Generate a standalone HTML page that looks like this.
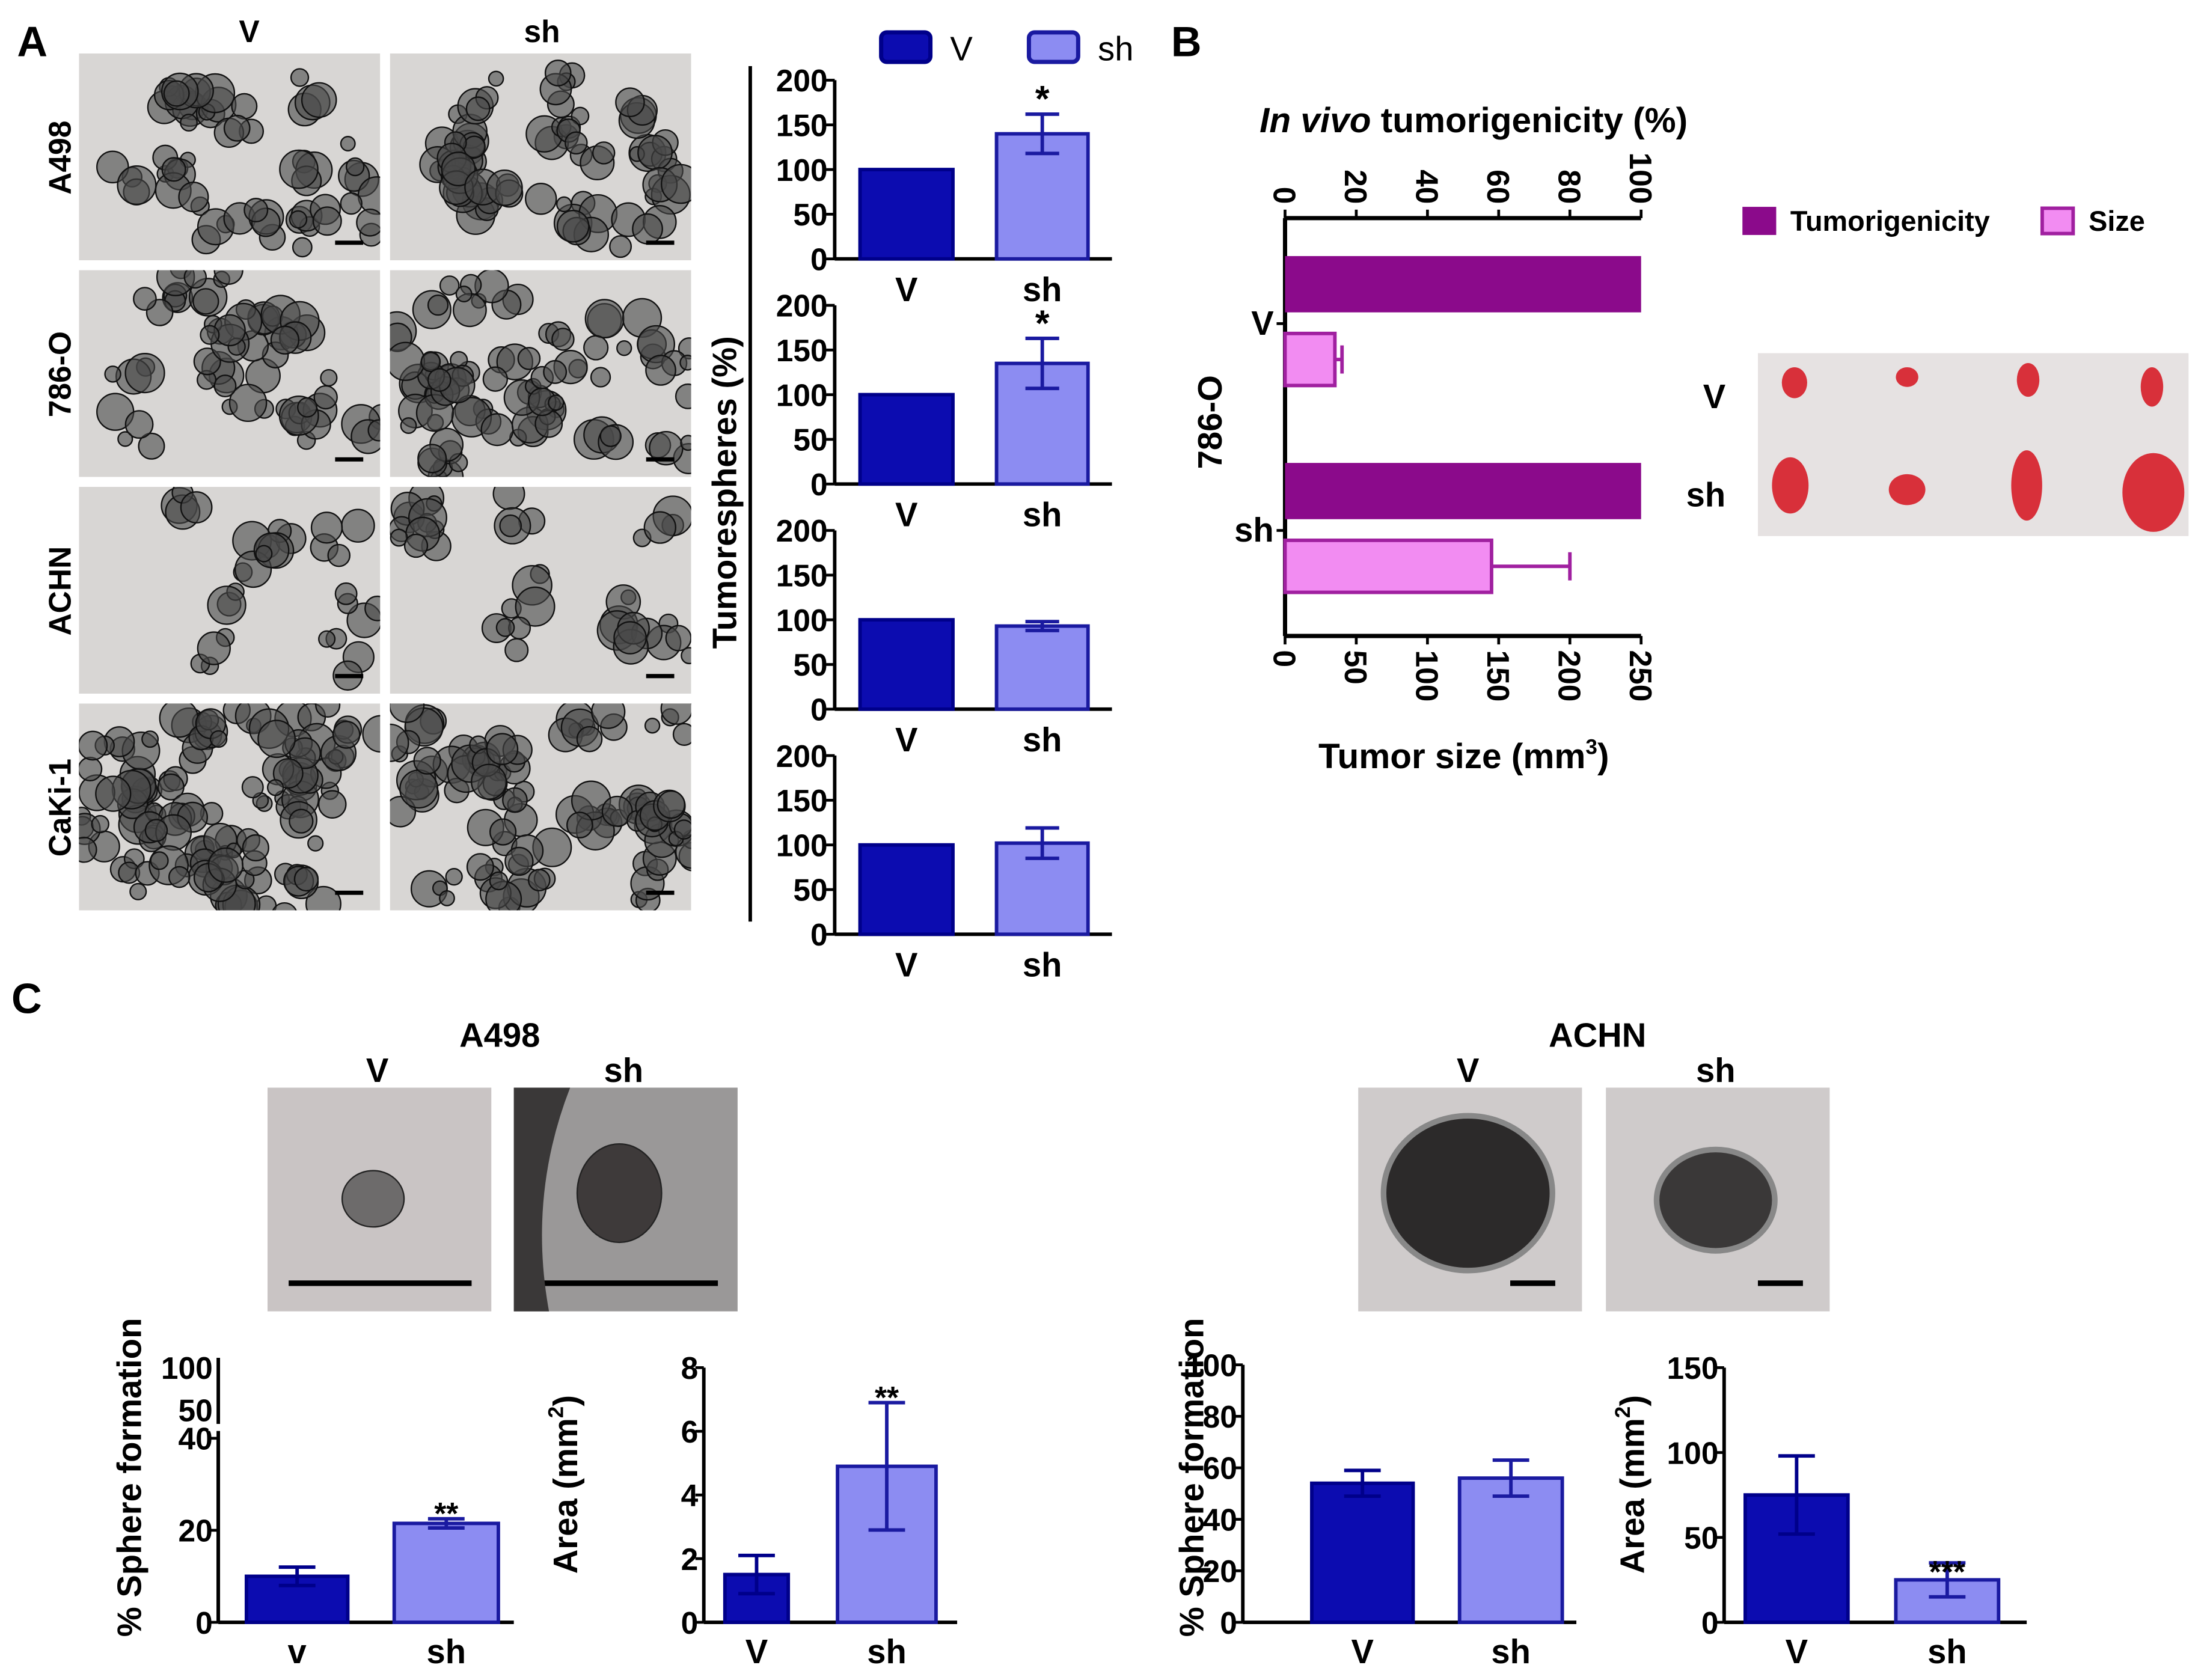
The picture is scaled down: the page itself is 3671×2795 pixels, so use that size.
<!DOCTYPE html>
<html><head><meta charset="utf-8">
<style>html,body{margin:0;padding:0;background:#fff}svg{display:block}text{font-family:"Liberation Sans",sans-serif;font-weight:bold}</style>
</head><body>
<svg id="fig" width="3671" height="2795" viewBox="0 0 1568 1194" xmlns="http://www.w3.org/2000/svg">
<defs id="defs"></defs>
<rect width="1568" height="1194" fill="#fff"/>
<g id="static"></g>
</svg>
<script>
// ---- data ----
const aCategories = ['V','sh'];
const aLines = ['A498','786-O','ACHN','CaKi-1'];
const aV = [100,100,100,100];
const aSh = [140,135,93,102];
const aShErr = [22,28,5,17];
const aStars = ['*','*','',''];
const aTicks = [0,50,100,150,200];
const bGroups = ['V','sh'];
const bTumorigenicity = [100,100];
const bSize = [35,145];
const bSizeErr = [5,55];
const bTopTicks = [0,20,40,60,80,100];
const bBottomTicks = [0,50,100,150,200,250];
const c1Vals = [10,21.5];
const c1Errs = [2,1];
const c2Vals = [1.5,4.9];
const c2Errs = [0.6,2];
const c3Vals = [54,56];
const c3Errs = [5,7];
const c4Vals = [75,25];
const c4Errs = [23,10];

const NS='http://www.w3.org/2000/svg';
const root=document.getElementById('static');
const defs=document.getElementById('defs');
function el(tag,attrs,parent,txt){const e=document.createElementNS(NS,tag);for(const k in attrs)e.setAttribute(k,attrs[k]);if(txt!==undefined)e.textContent=txt;(parent||root).appendChild(e);return e;}
const VF='#0c0cb0',VS='#00008a',SF='#8c8cf2',SS='#1a1aa0';

[['A',12,40],['B',832,40],['C',8,720]].forEach(p=>{
 const t=el('text',{x:p[1],y:p[2],'font-size':30,fill:'#000'},root,p[0]);
 
 
});

let clipN=0;
function photo(x,y,w,h,name,dens,seed,bg){
 const id='clip'+(clipN++);
 const cp=el('clipPath',{id:id},defs);
 el('rect',{x:x,y:y,width:w,height:h},cp);
 const g=el('g',{'clip-path':`url(#${id})`});
 
 
 el('rect',{x:x,y:y,width:w,height:h,fill:bg||'#d8d6d4'},g);
 let s=seed;function r(){s=(s*9301+49297)%233280;return s/233280;}
 for(let i=0;i<dens;i++){
  const cx=x+10+r()*(w-20),cy=y+10+r()*(h-20);
  for(let k=0;k<4;k++){
   el('circle',{cx:cx+(r()-0.5)*30,cy:cy+(r()-0.5)*30,r:5+r()*9,fill:'#4a4a4a','fill-opacity':0.6,stroke:'#111','stroke-width':1},g);
  }
 }
 el('rect',{x:x+w-32,y:y+h-14,width:20,height:3,fill:'#000'},g);
 return g;
}
const colX=[56,277],rowY=[38,192,346,500],dens=[[16,20],[16,24],[8,10],[34,28]];
el('text',{x:177,y:30,'font-size':22,'text-anchor':'middle'},root,'V');
el('text',{x:385,y:30,'font-size':22,'text-anchor':'middle'},root,'sh');
aLines.forEach((ln,i)=>{
 colX.forEach((cx,j)=>photo(cx,rowY[i],214,147,'micrograph-'+ln.toLowerCase()+'-'+aCategories[j].toLowerCase(),dens[i][j],i*7+j*3+5));
 const t=el('text',{x:0,y:0,'font-size':22,'text-anchor':'middle',transform:`translate(50,${rowY[i]+74}) rotate(-90)`},root,ln);
 
 
});

const ax=593,axEnd=790,bw=[[611,677],[708,773]];
const aBase=[184,344,504,664];
function errBar(xc,yTop,yErr,color,g,hw){
 el('line',{x1:xc,y1:yTop,x2:xc,y2:yErr,stroke:color,'stroke-width':2.5},g);
 el('line',{x1:xc-(hw||12),y1:yErr,x2:xc+(hw||12),y2:yErr,stroke:color,'stroke-width':2.5},g);
}
aBase.forEach((b0,i)=>{
 const g=el('g',{});
 
 
 const y=v=>b0-v*127/200;
 el('line',{x1:ax,y1:y(200),x2:ax,y2:b0,stroke:'#000','stroke-width':2.5},g);
 el('line',{x1:ax,y1:b0,x2:axEnd,y2:b0,stroke:'#000','stroke-width':2.5},g);
 aTicks.forEach(t=>{el('line',{x1:ax-6,y1:y(t),x2:ax,y2:y(t),stroke:'#000','stroke-width':2},g);
  el('text',{x:ax-5,y:y(t)+8,'font-size':22,'text-anchor':'end'},g,t);});
 const vals=[aV[i],aSh[i]];
 vals.forEach((v,j)=>{
  const r=el('rect',{x:bw[j][0],y:y(v),width:bw[j][1]-bw[j][0],height:b0-y(v),fill:j?SF:VF,stroke:j?SS:VS,'stroke-width':2.5},g);
  
  
  el('text',{x:(bw[j][0]+bw[j][1])/2,y:b0+30,'font-size':24,'text-anchor':'middle'},g,aCategories[j]);
 });
 const xc=(bw[1][0]+bw[1][1])/2;
 errBar(xc,y(aSh[i]),y(aSh[i]+aShErr[i]),SS,g);
 errBar(xc,y(aSh[i]),y(aSh[i]-aShErr[i]),SS,g);
 if(aStars[i])el('text',{x:xc,y:y(aSh[i]+aShErr[i])-2,'font-size':26,'text-anchor':'middle'},g,aStars[i]);
});
el('line',{x1:533,y1:47,x2:533,y2:655,stroke:'#000','stroke-width':2.5});
el('text',{x:0,y:0,'font-size':24,'text-anchor':'middle',transform:'translate(523,350) rotate(-90)'},root,'Tumorespheres (%)');
const lgA=el('g',{});
el('rect',{x:626,y:23,width:35,height:21,rx:4,fill:VF,stroke:VS,'stroke-width':3},lgA);
el('text',{x:675,y:43,'font-size':24,style:'font-weight:normal'},lgA,'V');
el('rect',{x:731,y:23,width:35,height:21,rx:4,fill:SF,stroke:SS,'stroke-width':3},lgA);
el('text',{x:780,y:43,'font-size':24,style:'font-weight:normal'},lgA,'sh');

const bx0=913,bx1=1166,bTop=155,bBot=452;
const gB=el('g',{});
const xPct=v=>bx0+v*(bx1-bx0)/100, xSize=v=>bx0+v*(bx1-bx0)/250;
el('line',{x1:bx0,y1:bTop,x2:bx1,y2:bTop,stroke:'#000','stroke-width':3},gB);
el('line',{x1:bx0,y1:bBot,x2:bx1,y2:bBot,stroke:'#000','stroke-width':3},gB);
el('line',{x1:bx0,y1:bTop,x2:bx0,y2:bBot,stroke:'#000','stroke-width':3},gB);
bTopTicks.forEach(t=>{const x=xPct(t);el('line',{x1:x,y1:bTop-6,x2:x,y2:bTop,stroke:'#000','stroke-width':2},gB);
 el('text',{x:0,y:0,'font-size':22,transform:`translate(${x-8},${bTop-10}) rotate(90)`,'text-anchor':'end'},gB,t);});
bBottomTicks.forEach(t=>{const x=xSize(t);el('line',{x1:x,y1:bBot,x2:x,y2:bBot+6,stroke:'#000','stroke-width':2},gB);
 el('text',{x:0,y:0,'font-size':22,transform:`translate(${x-8},${bBot+10}) rotate(90)`},gB,t);});
const bRowY=[182,329];
bGroups.forEach((gname,i)=>{
 const y0=bRowY[i];
 const r1=el('rect',{x:bx0,y:y0,width:xPct(bTumorigenicity[i])-bx0,height:40,fill:'#8b0a8b'},gB);
 
 
 const r2=el('rect',{x:bx0,y:y0+55,width:xSize(bSize[i])-bx0,height:37,fill:'#f28cf2',stroke:'#a020a0','stroke-width':2.5},gB);
 
 
 const ym=y0+55+18.5,xe=xSize(bSize[i]+bSizeErr[i]);
 el('line',{x1:xSize(bSize[i]),y1:ym,x2:xe,y2:ym,stroke:'#a020a0','stroke-width':2.5},gB);
 el('line',{x1:xe,y1:ym-10,x2:xe,y2:ym+10,stroke:'#a020a0','stroke-width':2.5},gB);
 el('line',{x1:bx0-6,y1:y0+48,x2:bx0,y2:y0+48,stroke:'#000','stroke-width':2},gB);
 el('text',{x:bx0-8,y:y0+56,'font-size':24,'text-anchor':'end'},gB,gname);
});
el('text',{x:0,y:0,'font-size':24,'text-anchor':'middle',transform:'translate(868,300) rotate(-90)'},gB,'786-O');
const tb=el('text',{x:1047,y:94,'font-size':25,'text-anchor':'middle'},gB);
el('tspan',{'font-style':'italic'},tb,'In vivo');el('tspan',{},tb,' tumorigenicity (%)');
const xt=el('text',{x:1040,y:546,'font-size':25,'text-anchor':'middle'},gB,'Tumor size (mm');
el('tspan',{'font-size':15,dy:-10},xt,'3');el('tspan',{dy:10},xt,')');
const lgB=el('g',{});
el('rect',{x:1238,y:147,width:24,height:20,fill:'#8b0a8b'},lgB);
el('text',{x:1272,y:164,'font-size':20},lgB,'Tumorigenicity');
el('rect',{x:1451,y:148,width:22,height:18,fill:'#f28cf2',stroke:'#a020a0','stroke-width':2.5},lgB);
el('text',{x:1484,y:164,'font-size':20},lgB,'Size');
const tp=el('g',{});
el('rect',{x:1249,y:251,width:306,height:130,fill:'#e6e2e2'},tp);
[[1275,272,9,11],[1355,268,8,7],[1441,270,8,12],[1529,275,8,14],[1272,345,13,20],[1355,348,13,11],[1440,345,11,25],[1530,350,22,28]].forEach(b=>el('ellipse',{cx:b[0],cy:b[1],rx:b[2],ry:b[3],fill:'#d8303a'},tp));
el('text',{x:1218,y:290,'font-size':24,'text-anchor':'middle'},root,'V');
el('text',{x:1212,y:360,'font-size':24,'text-anchor':'middle'},root,'sh');

[['A498',355,[[190,268,'V'],[365,443,'sh']],[[4,'#c9c4c4'],[6,'#9a9898']]],['ACHN',1135,[[965,1043,'V'],[1141,1219,'sh']],[[0,'#cfcbcb'],[0,'#cfcbcb']]]].forEach(p=>{
 el('text',{x:p[1],y:744,'font-size':24,'text-anchor':'middle'},root,p[0]);
 p[2].forEach((c,k)=>{
  el('text',{x:c[1],y:769,'font-size':24,'text-anchor':'middle'},root,c[2]);
  const g=el('g',{});
  el('rect',{x:c[0],y:773,width:159,height:159,fill:p[3][k][1]},g);
  if(p[0]==='A498'){el('ellipse',{cx:c[0]+75,cy:k?848:852,rx:k?30:22,ry:k?35:20,fill:k?'#3e3a3a':'#6d6b6b',stroke:'#222'},g);
   el('line',{x1:c[0]+15,y1:912,x2:c[0]+145,y2:912,stroke:'#000','stroke-width':4},g);
   if(k)el('path',{d:`M${c[0]} 773 L${c[0]+40} 773 Q${c[0]+10} 850 ${c[0]+25} 932 L${c[0]} 932Z`,fill:'#3a3838'},g);}
  else{el('ellipse',{cx:c[0]+78,cy:k?853:848,rx:k?42:60,ry:k?36:55,fill:k?'#3a3838':'#2c2a2a',stroke:'#888','stroke-width':4},g);
   el('line',{x1:c[0]+108,y1:912,x2:c[0]+140,y2:912,stroke:'#000','stroke-width':4},g);}
 });
});

function cChart(name,axX,xEnd,bars,vals,errs,yOf,ticks,labels,title,stars,starsY){
 const g=el('g',{});
 const b0=1153;
 el('line',{x1:axX,y1:yOf(ticks[ticks.length-1]),x2:axX,y2:b0,stroke:'#000','stroke-width':2.5},g);
 el('line',{x1:axX,y1:b0,x2:xEnd,y2:b0,stroke:'#000','stroke-width':2.5},g);
 ticks.forEach(t=>{el('line',{x1:axX-6,y1:yOf(t),x2:axX,y2:yOf(t),stroke:'#000','stroke-width':2},g);
  el('text',{x:axX-4,y:yOf(t)+8,'font-size':22,'text-anchor':'end'},g,t);});
 vals.forEach((v,j)=>{
  const r=el('rect',{x:bars[j][0],y:yOf(v),width:bars[j][1]-bars[j][0],height:b0-yOf(v),fill:j?SF:VF,stroke:j?SS:VS,'stroke-width':2.5},g);
  
  
  const xc=(bars[j][0]+bars[j][1])/2;
  errBar(xc,yOf(v),yOf(v+errs[j]),j?SS:VS,g,13);errBar(xc,yOf(v),yOf(v-errs[j]),j?SS:VS,g,13);
  el('text',{x:xc,y:1182,'font-size':24,'text-anchor':'middle'},g,labels[j]);
 });
 if(stars){const xc=(bars[1][0]+bars[1][1])/2;el('text',{x:xc,y:yOf(vals[1]+errs[1])+starsY,'font-size':22,'text-anchor':'middle'},g,stars);}
 const tt=el('text',{x:0,y:0,'font-size':24,'text-anchor':'middle',transform:`translate(${title[1]},${title[2]}) rotate(-90)`},g,title[0]);
 if(title[3]){el('tspan',{'font-size':15,dy:-10},tt,'2');el('tspan',{dy:10},tt,')');}
 return g;
}
const y1=v=>v<=40?1153-v*3.27:(v<=50?1002:1002-(v-50)*0.6);
const g1=cChart('sphere-formation-a498',155,365,[[175,247],[280,354]],c1Vals,c1Errs,y1,[0,20,40],['v','sh'],['% Sphere formation',100,1050],'**',4);
el('text',{x:151,y:1010,'font-size':22,'text-anchor':'end'},g1,'50');
el('text',{x:151,y:980,'font-size':22,'text-anchor':'end'},g1,'100');
el('line',{x1:155,y1:965,x2:155,y2:1153,stroke:'#000','stroke-width':2.5},g1);
el('rect',{x:148,y:1012,width:14,height:5,fill:'#fff'},g1);
cChart('area-a498',500,680,[[515,560],[595,665]],c2Vals,c2Errs,v=>1153-v*181/8,[0,2,4,6,8],['V','sh'],['Area (mm',410,1055,1],'**',4);
cChart('sphere-formation-achn',883,1120,[[932,1004],[1037,1110]],c3Vals,c3Errs,v=>1153-v*1.83,[0,20,40,60,80,100],['V','sh'],['% Sphere formation',855,1050],'',0);
cChart('area-achn',1225,1440,[[1240,1313],[1347,1420]],c4Vals,c4Errs,v=>1153-v*181/150,[0,50,100,150],['V','sh'],['Area (mm',1168,1055,1],'***',14);
</script>
</body></html>
